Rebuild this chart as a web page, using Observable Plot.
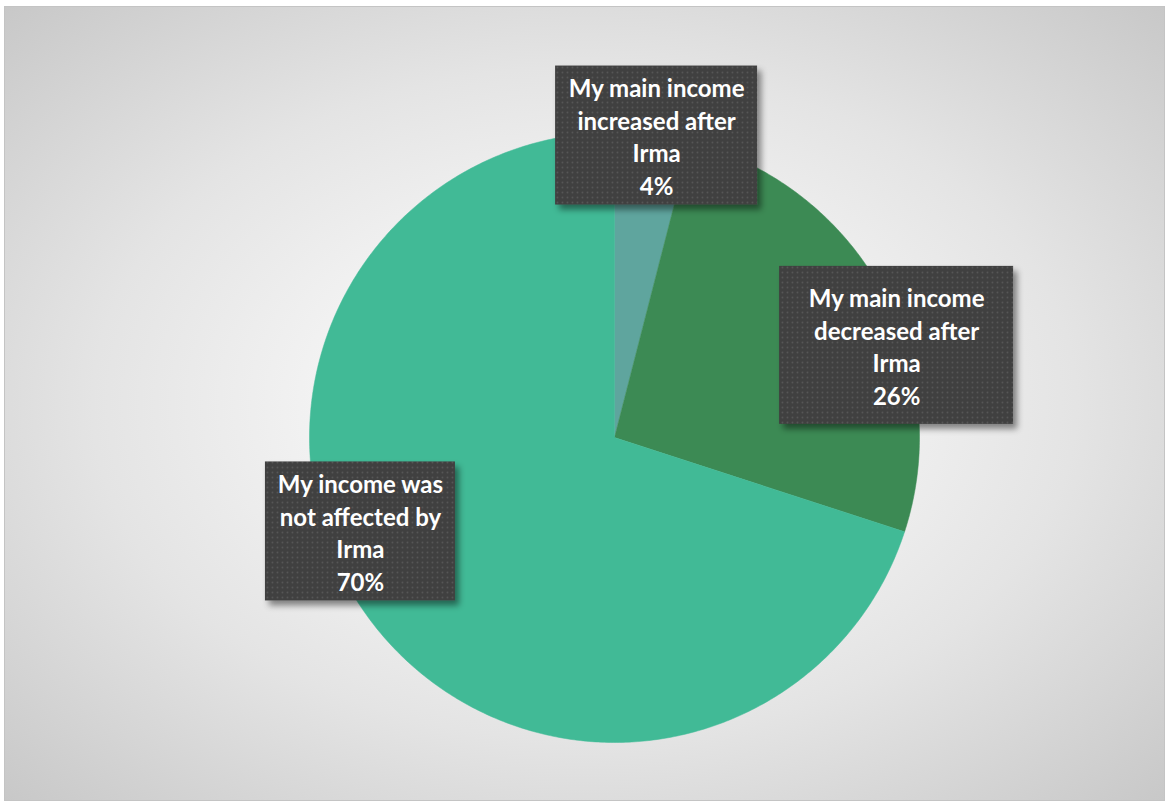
<!DOCTYPE html>
<html>
<head>
<meta charset="utf-8">
<script src="https://cdn.jsdelivr.net/npm/d3@7"></script>
<script src="https://cdn.jsdelivr.net/npm/@observablehq/plot@0.6"></script>
<style>
  html, body { margin: 0; padding: 0; background: #ffffff; }
  #wrap { position: relative; width: 1168px; height: 803px; overflow: hidden; }
  #frame {
    position: absolute; left: 4px; top: 6px; width: 1161px; height: 795px;
    box-sizing: border-box; border: 1px solid #c4c4c4;
    background: radial-gradient(ellipse farthest-corner at 50% 50%, #ffffff 0%, #f6f6f6 25%, #e4e4e4 60%, #c8c8c8 100%);
  }
  #chart { position: absolute; left: 0; top: 0; }
</style>
</head>
<body>
<div id="wrap">
  <div id="frame"></div>
  <div id="chart"></div>
</div>
<script>
// Survey answers: how main income changed after Hurricane Irma
const categories = [
  "My main income\nincreased after\nIrma",
  "My main income\ndecreased after\nIrma",
  "My income was\nnot affected by\nIrma"
];
const shares = [4, 26, 70];
const sliceColors = ["#5fa59e", "#3c8a54", "#41ba96"];

// Callout placement (centre offset in pie radii, box size in px)
const calloutOffset = [[0.138, 0.99], [0.925, 0.302], [-0.833, -0.308]];
const calloutSize = [[202, 139], [234, 158], [190, 139]];

const W = 1168, H = 803;
const cx = 614, cy = 437, R = 305;

// Slice outlines on the unit circle, clockwise from 12 o'clock
const arcs = d3.pie().sort(null).value(d => d.value)(
  categories.map((c, i) => ({category: c, value: shares[i]}))
);
const slicePts = [];
for (const a of arcs) {
  const n = Math.max(8, Math.ceil((a.endAngle - a.startAngle) / 0.01));
  slicePts.push({category: a.data.category, x: 0, y: 0});
  for (let k = 0; k <= n; k++) {
    const t = a.startAngle + (a.endAngle - a.startAngle) * k / n;
    slicePts.push({category: a.data.category, x: Math.sin(t), y: Math.cos(t)});
  }
  slicePts.push({category: a.data.category, x: 0, y: 0});
}

const callouts = arcs.map((a, i) => ({
  text: `${a.data.category}\n${a.data.value}%`,
  x: calloutOffset[i][0],
  y: calloutOffset[i][1],
  w: calloutSize[i][0] / R,
  h: calloutSize[i][1] / R
}));

const chart = Plot.plot({
  width: W,
  height: H,
  margin: 0,
  style: {background: "transparent"},
  x: {domain: [-cx / R, (W - cx) / R], axis: null},
  y: {domain: [-(H - cy) / R, cy / R], axis: null},
  color: {domain: categories, range: sliceColors},
  marks: [
    Plot.line(slicePts, {x: "x", y: "y", z: "category", fill: "category", stroke: "category", strokeWidth: 0.5, curve: "linear"}),
    Plot.rect(callouts, {
      x1: d => d.x - d.w / 2, x2: d => d.x + d.w / 2,
      y1: d => d.y - d.h / 2, y2: d => d.y + d.h / 2,
      fill: "url(#dots)"
    }),
    Plot.text(callouts, {
      x: "x", y: "y", text: "text",
      fill: "white", fontSize: 24, fontWeight: "bold",
      fontFamily: "Lato, 'Open Sans', sans-serif",
      lineHeight: 1.354
    })
  ]
});

// Dotted dark fill and soft drop shadow for the callout boxes
const svg = d3.select(chart);
const defs = svg.insert("defs", ":first-child");
const pat = defs.append("pattern")
  .attr("id", "dots").attr("patternUnits", "userSpaceOnUse")
  .attr("width", 5).attr("height", 5);
pat.append("rect").attr("width", 5).attr("height", 5).attr("fill", "#404040");
pat.append("circle").attr("cx", 2.5).attr("cy", 2.5).attr("r", 0.9).attr("fill", "#575757");
const flt = defs.append("filter").attr("id", "shadow")
  .attr("x", "-20%").attr("y", "-20%").attr("width", "150%").attr("height", "150%");
flt.append("feDropShadow").attr("dx", 4).attr("dy", 5).attr("stdDeviation", 3)
  .attr("flood-color", "#000").attr("flood-opacity", 0.45);
svg.selectAll("g[aria-label=rect] rect").attr("filter", "url(#shadow)");

document.getElementById("chart").appendChild(chart);
</script>
</body>
</html>
